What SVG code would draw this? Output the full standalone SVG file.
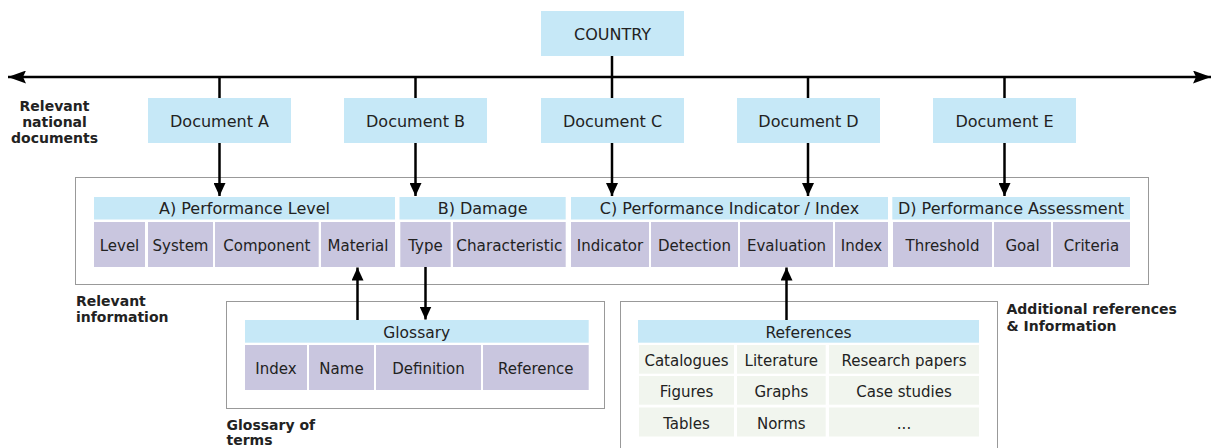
<svg xmlns="http://www.w3.org/2000/svg" width="1211" height="448" viewBox="0 0 1211 448">
<style>
text{font-family:"DejaVu Sans","Liberation Sans",sans-serif;fill:#222;}
.doc{font-size:16px;text-anchor:middle;}
.hd{font-size:16px;text-anchor:middle;}
.hd2{font-size:15.5px;text-anchor:middle;}
.ce{font-size:15px;text-anchor:middle;}
.lb{font-size:14px;font-weight:bold;}
.blue{fill:#c6e8f7;}
.pur{fill:#c9c6df;}
.grn{fill:#f1f5ee;}
.dot{fill:none;stroke:#333;stroke-width:1;stroke-dasharray:1 1;}
.ln{fill:none;stroke:#000;stroke-width:2.5;}
</style>
<defs>
<marker id="ah" viewBox="0 0 13 12" refX="13" refY="6" markerWidth="13" markerHeight="12" markerUnits="userSpaceOnUse" orient="auto"><path d="M0,0 L13,6 L0,12 Z" fill="#000"/></marker>
<marker id="ahh" viewBox="0 0 18 13" refX="18" refY="6.5" markerWidth="18" markerHeight="13" markerUnits="userSpaceOnUse" orient="auto"><path d="M0,0 L18,6.5 L0,13 L3,6.5 Z" fill="#000"/></marker>
</defs>

<g id="frames">
<rect class="dot" x="75.5" y="177.5" width="1073" height="107"/>
<rect class="dot" x="226.5" y="301.5" width="378" height="107"/>
<rect class="dot" x="620.5" y="301.5" width="377" height="160"/>
</g>

<g id="connectors">
<line class="ln" x1="612" y1="77" x2="8" y2="77" marker-end="url(#ahh)"/>
<line class="ln" x1="612" y1="77" x2="1211" y2="77" marker-end="url(#ahh)"/>
<line class="ln" x1="612" y1="56" x2="612" y2="98"/>
<line class="ln" x1="219.5" y1="77" x2="219.5" y2="98"/>
<line class="ln" x1="415.5" y1="77" x2="415.5" y2="98"/>
<line class="ln" x1="808" y1="77" x2="808" y2="98"/>
<line class="ln" x1="1004.5" y1="77" x2="1004.5" y2="98"/>
<line class="ln" x1="219.5" y1="143" x2="219.5" y2="196" marker-end="url(#ah)"/>
<line class="ln" x1="415.5" y1="143" x2="415.5" y2="196" marker-end="url(#ah)"/>
<line class="ln" x1="612" y1="143" x2="612" y2="196" marker-end="url(#ah)"/>
<line class="ln" x1="808" y1="143" x2="808" y2="196" marker-end="url(#ah)"/>
<line class="ln" x1="1004.5" y1="143" x2="1004.5" y2="196" marker-end="url(#ah)"/>
<line class="ln" x1="357.5" y1="320" x2="357.5" y2="267.5" marker-end="url(#ah)"/>
<line class="ln" x1="425.5" y1="267" x2="425.5" y2="319.5" marker-end="url(#ah)"/>
<line class="ln" x1="786.5" y1="320" x2="786.5" y2="267.5" marker-end="url(#ah)"/>
</g>

<g id="country"><rect class="blue" x="541" y="11" width="143" height="45"/><text class="doc" x="612.5" y="39.5">COUNTRY</text></g>
<g id="docA"><rect class="blue" x="148" y="98" width="143" height="45"/><text class="doc" x="219.5" y="127">Document A</text></g>
<g id="docB"><rect class="blue" x="344" y="98" width="143" height="45"/><text class="doc" x="415.5" y="127">Document B</text></g>
<g id="docC"><rect class="blue" x="541" y="98" width="143" height="45"/><text class="doc" x="612.5" y="127">Document C</text></g>
<g id="docD"><rect class="blue" x="737" y="98" width="143" height="45"/><text class="doc" x="808.5" y="127">Document D</text></g>
<g id="docE"><rect class="blue" x="933" y="98" width="143" height="45"/><text class="doc" x="1004.5" y="127">Document E</text></g>

<g id="headA"><rect class="blue" x="94" y="197" width="301" height="22.5"/><text class="hd" x="244.5" y="214.3">A) Performance Level</text></g>
<g id="headB"><rect class="blue" x="399.5" y="197" width="166.2" height="22.5"/><text class="hd" x="482.6" y="214.3">B) Damage</text></g>
<g id="headC"><rect class="blue" x="571" y="197" width="317" height="22.5"/><text class="hd" x="729.5" y="214.3">C) Performance Indicator / Index</text></g>
<g id="headD"><rect class="blue" x="892.3" y="197" width="237.7" height="22.5"/><text class="hd" x="1011" y="214.3">D) Performance Assessment</text></g>

<g id="cLevel"><rect class="pur" x="94" y="222" width="51" height="45"/><text class="ce" x="119.5" y="251">Level</text></g>
<g id="cSystem"><rect class="pur" x="148" y="222" width="65" height="45"/><text class="ce" x="180.5" y="251">System</text></g>
<g id="cComponent"><rect class="pur" x="215" y="222" width="103.7" height="45"/><text class="ce" x="266.8" y="251">Component</text></g>
<g id="cMaterial"><rect class="pur" x="321" y="222" width="74" height="45"/><text class="ce" x="358" y="251">Material</text></g>
<g id="cType"><rect class="pur" x="400.3" y="222" width="50.4" height="45"/><text class="ce" x="425.5" y="251">Type</text></g>
<g id="cCharacteristic"><rect class="pur" x="453" y="222" width="112.7" height="45"/><text class="ce" x="509.3" y="251" textLength="106" lengthAdjust="spacingAndGlyphs">Characteristic</text></g>
<g id="cIndicator"><rect class="pur" x="571" y="222" width="78" height="45"/><text class="ce" x="610" y="251">Indicator</text></g>
<g id="cDetection"><rect class="pur" x="651" y="222" width="87" height="45"/><text class="ce" x="694.5" y="251">Detection</text></g>
<g id="cEvaluation"><rect class="pur" x="740" y="222" width="93" height="45"/><text class="ce" x="786.5" y="251">Evaluation</text></g>
<g id="cIndex"><rect class="pur" x="835" y="222" width="53" height="45"/><text class="ce" x="861.5" y="251">Index</text></g>
<g id="cThreshold"><rect class="pur" x="893" y="222" width="99" height="45"/><text class="ce" x="942.5" y="251">Threshold</text></g>
<g id="cGoal"><rect class="pur" x="994" y="222" width="57" height="45"/><text class="ce" x="1022.5" y="251">Goal</text></g>
<g id="cCriteria"><rect class="pur" x="1053" y="222" width="77" height="45"/><text class="ce" x="1091.5" y="251">Criteria</text></g>

<g id="glossary">
<rect class="blue" x="245" y="320" width="343.7" height="22.7"/><text class="hd2" x="416.8" y="338">Glossary</text>
<rect class="pur" x="245" y="345" width="62" height="45"/><text class="ce" x="276" y="374">Index</text>
<rect class="pur" x="309" y="345" width="65" height="45"/><text class="ce" x="341.5" y="374">Name</text>
<rect class="pur" x="376" y="345" width="105" height="45"/><text class="ce" x="428.5" y="374">Definition</text>
<rect class="pur" x="483" y="345" width="105.7" height="45"/><text class="ce" x="535.8" y="374">Reference</text>
</g>

<g id="references">
<rect class="blue" x="638" y="320" width="341" height="22.7"/><text class="hd2" x="808.5" y="338">References</text>
<rect class="grn" x="639" y="345" width="95" height="28.7"/><text class="ce" x="686.5" y="366">Catalogues</text>
<rect class="grn" x="737" y="345" width="88.7" height="28.7"/><text class="ce" x="781.3" y="366">Literature</text>
<rect class="grn" x="829" y="345" width="150" height="28.7"/><text class="ce" x="904" y="366">Research papers</text>
<rect class="grn" x="639" y="376" width="95" height="28.7"/><text class="ce" x="686.5" y="397">Figures</text>
<rect class="grn" x="737" y="376" width="88.7" height="28.7"/><text class="ce" x="781.3" y="397">Graphs</text>
<rect class="grn" x="829" y="376" width="150" height="28.7"/><text class="ce" x="904" y="397">Case studies</text>
<rect class="grn" x="639" y="407.5" width="95" height="29"/><text class="ce" x="686.5" y="428.7">Tables</text>
<rect class="grn" x="737" y="407.5" width="88.7" height="29"/><text class="ce" x="781.3" y="428.7">Norms</text>
<rect class="grn" x="829" y="407.5" width="150" height="29"/><text class="ce" x="904" y="428.7">...</text>
</g>

<g id="labels">
<text class="lb" x="54.5" y="111" text-anchor="middle">Relevant</text>
<text class="lb" x="54.5" y="127" text-anchor="middle">national</text>
<text class="lb" x="54.5" y="143" text-anchor="middle">documents</text>
<text class="lb" x="76" y="306">Relevant</text>
<text class="lb" x="76" y="322">information</text>
<text class="lb" x="226.5" y="430">Glossary of</text>
<text class="lb" x="226.5" y="445">terms</text>
<text class="lb" x="1006.5" y="314">Additional references</text>
<text class="lb" x="1006.5" y="330.5">&amp; Information</text>
</g>
</svg>
